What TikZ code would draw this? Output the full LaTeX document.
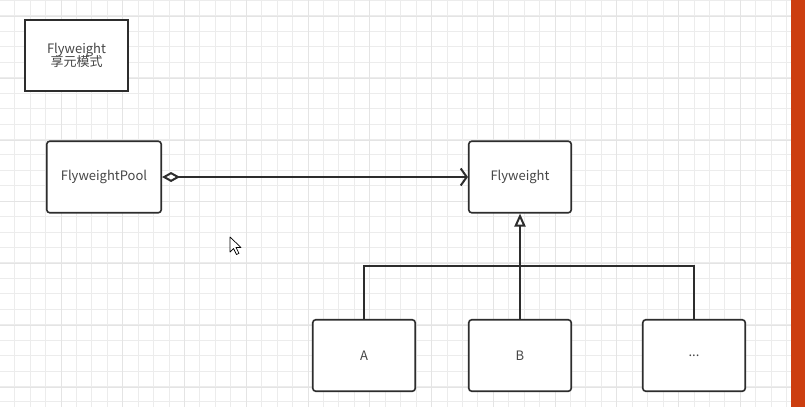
\documentclass[tikz,border=0pt]{standalone}
\usepackage{fontspec}
\setmainfont{Noto Sans CJK SC}
\usetikzlibrary{arrows.meta}
\definecolor{edgegray}{RGB}{45,45,45}
\definecolor{textgray}{RGB}{70,70,70}
\definecolor{gridminor}{RGB}{236,236,236}
\definecolor{gridmajor}{RGB}{228,228,228}
\definecolor{barorange}{RGB}{204,62,16}

\begin{document}
\begin{tikzpicture}[x=1pt, y=-1pt,
    box/.style={draw=edgegray, line width=1.6pt, fill=white, rounded corners=3pt,
      minimum width=102.5pt, minimum height=71.5pt, inner sep=0pt,
      text=textgray, font=\fontsize{13}{16}\selectfont, align=center},
    link/.style={draw=edgegray, line width=2pt}]
    \useasboundingbox (0,0) rectangle (805,407);
    \fill[white] (0,0) rectangle (805,407);
    % grid
    \foreach \i in {0,...,52} \draw[gridminor, line width=1pt] ({-0.76+15.44*\i},0) -- ++(0,407);
    \foreach \j in {0,...,26} \draw[gridminor, line width=1pt] (0,{0.5+15.44*\j}) -- ++(805,0);
    \foreach \i in {0,...,13} \draw[gridmajor, line width=1pt] ({-0.76+61.76*\i},0) -- ++(0,407);
    \foreach \j in {0,...,6} \draw[gridmajor, line width=1pt] (0,{16.5+61.76*\j}) -- ++(805,0);
    \fill[barorange] (791,0) rectangle (805,407);

    \node[box, rounded corners=0pt] (title) at (76.5,55.5) {Flyweight\\[-3pt]享元模式};
    \node[box, minimum width=114.5pt] (pool) at (104,177) {FlyweightPool};
    \node[box] (fly) at (520,177) {Flyweight};
    \node[box] (a) at (364,355.5) {A};
    \node[box] (b) at (520,355.5) {B};
    \node[box] (more) at (694,355.5) {...};

    \draw[link, {Diamond[open, length=18pt, width=10pt]}-{Straight Barb[length=6pt, width=17pt]}] (pool.east) -- (fly.west);
    \coordinate (bus) at (520,266);
    \draw[link] (a.north) |- (bus) -| (more.north);
    \draw[link, -{Triangle[open, length=13pt, width=11pt, fill=white]}] (b.north) -- (fly.south);

    % mouse pointer
    \draw[fill=white, line width=0.7pt, line join=round] (230,237) -- ++(0,15) -- ++(3.5,-3.5) -- ++(3,6) -- ++(2.5,-1.2) -- ++(-3,-5.8) -- ++(5,0) -- cycle;
\end{tikzpicture}
\end{document}
